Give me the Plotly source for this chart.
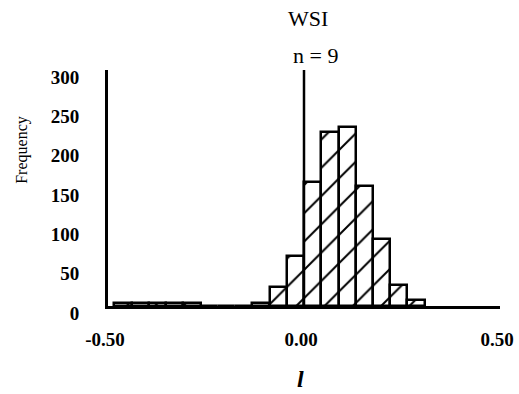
import plotly.graph_objects as go

# ---- data ----
bin_width = 0.044
bin_starts = [-0.484, -0.440, -0.396, -0.352, -0.308, -0.264, -0.220, -0.176, -0.132,
              -0.088, -0.044, 0.000, 0.044, 0.088, 0.132, 0.176, 0.220, 0.264]
frequency = [4, 4, 4, 4, 4, 0, 0, 0, 4,
             24, 64, 158, 221, 227, 153, 85, 27, 8]

x_tick_vals = [-0.5, 0.0, 0.5]
x_tick_text = ["-0.50", "0.00", "0.50"]
y_tick_vals = [0, 50, 100, 150, 200, 250, 300]
y_tick_text = ["0", "50", "100", "150", "200", "250", "300"]

title_main = "WSI"
title_sub = "n = 9"
y_title = "Frequency"
x_title = "l"

centers = [s + bin_width / 2 for s in bin_starts]

fig = go.Figure()
fig.add_trace(go.Bar(
    x=centers,
    y=frequency,
    width=[bin_width] * len(centers),
    marker=dict(
        color="white",
        line=dict(color="black", width=2.5),
        pattern=dict(shape="/", size=20, solidity=0.1, fgopacity=1,
                     fgcolor="black", bgcolor="white"),
    ),
    showlegend=False,
))

fig.add_vline(x=0, line=dict(color="black", width=2.5), layer="above",
              y0=0, y1=1.0)

serif = "Liberation Serif"
fig.update_layout(
    width=519, height=394,
    margin=dict(l=108, r=19, t=70, b=88, autoexpand=False),
    plot_bgcolor="white", paper_bgcolor="white",
    bargap=0,
    xaxis=dict(range=[-0.5, 0.5], tickvals=x_tick_vals, ticktext=x_tick_text,
               automargin=False,
               showgrid=False, zeroline=False, showline=True, linecolor="black",
               linewidth=3, ticks="", ticklabelstandoff=14, ticklabelshift=-3,
               tickfont=dict(family=serif, size=19, color="black", weight="bold")),
    yaxis=dict(range=[0, 300], tickvals=y_tick_vals, ticktext=y_tick_text,
               automargin=False,
               showgrid=False, zeroline=False, showline=True, linecolor="black",
               linewidth=3, ticks="", ticklabelstandoff=22, ticklabelshift=7,
               tickfont=dict(family=serif, size=19, color="black", weight="bold")),
    annotations=[
        dict(text=title_main, x=0.51, y=1.22, xref="paper", yref="paper",
             showarrow=False, xanchor="center", yanchor="middle",
             font=dict(family=serif, size=22, color="black")),
        dict(text=title_sub, x=0.53, y=1.06, xref="paper", yref="paper",
             showarrow=False, xanchor="center", yanchor="middle",
             font=dict(family=serif, size=22, color="black")),
        dict(text=y_title, x=-0.218, y=0.66, xref="paper", yref="paper",
             showarrow=False, xanchor="center", yanchor="middle", textangle=-90,
             font=dict(family=serif, size=16, color="black")),
        dict(text=x_title, x=0.49, y=-0.31, xref="paper", yref="paper",
             showarrow=False, xanchor="center", yanchor="middle",
             font=dict(family=serif, size=24, color="black", style="italic",
                       weight="bold")),
    ],
)

fig.write_html("out.html")
